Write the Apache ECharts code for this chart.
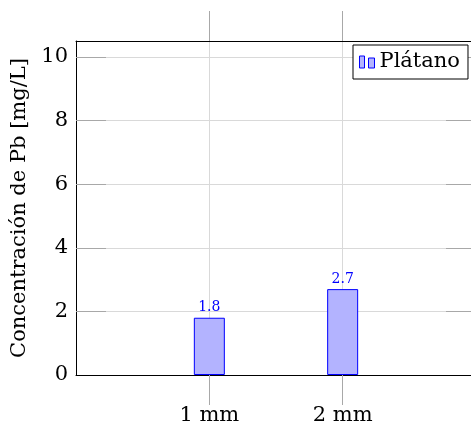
<!DOCTYPE html>
<html>
<head>
<meta charset="utf-8">
<script src="https://cdn.jsdelivr.net/npm/echarts@6/dist/echarts.min.js"></script>
<style>
  html, body { margin: 0; padding: 0; background: #fff; }
  #chart { width: 471px; height: 429px; }
</style>
</head>
<body>
<div id="chart"></div>
<script>
// Lead (Pb) concentration by sample thickness
const categories = ['1 mm', '2 mm'];
const categoryPositions = [1, 2];
const platanoValues = [1.8, 2.7];
const yTicks = [0, 2, 4, 6, 8, 10];

const seriesName = 'Plátano';
const yAxisTitle = 'Concentración de Pb [mg/L]';

const FONT = 'DejaVu Serif';
const GRID = '#d9d9d9';
const TICK = '#a8a8a8';

// inner tick marks skip the baseline so the black axis line stays intact
const innerTicks = yTicks.filter((v) => v > 0);

const chart = echarts.init(document.getElementById('chart'), null, { renderer: 'canvas' });

const barData = categoryPositions.map((x, i) => [x, platanoValues[i]]);

chart.setOption({
  animation: false,
  backgroundColor: '#fff',
  grid: { left: 76, width: 400, top: 41, bottom: 54, containLabel: false, outerBoundsMode: 'none' },
  legend: {
    left: 353,
    top: 45,
    orient: 'horizontal',
    data: [seriesName],
    icon: 'path://M0,0h5v12h-5z M9,2h6v10h-6z',
    itemWidth: 15,
    itemHeight: 12,
    itemGap: 5,
    padding: [6, 8, 6, 6],
    borderColor: '#000',
    borderWidth: 1,
    backgroundColor: '#fff',
    itemStyle: { color: '#b3b3ff', borderColor: '#0000ff', borderWidth: 1 },
    textStyle: { fontFamily: FONT, fontSize: 21, color: '#000', lineHeight: 22 }
  },
  xAxis: [
    {
      type: 'value',
      position: 'bottom',
      min: 0,
      max: 3,
      axisLine: { show: true, onZero: false, lineStyle: { color: '#000', width: 1 } },
      axisTick: { show: true, inside: false, length: 30, customValues: categoryPositions, lineStyle: { color: TICK } },
      axisLabel: {
        show: true,
        customValues: categoryPositions,
        margin: 30,
        formatter: (v) => categories[categoryPositions.indexOf(v)] || '',
        fontFamily: FONT, fontSize: 21, color: '#000'
      },
      splitLine: { show: true, lineStyle: { color: GRID, width: 1 } }
    },
    {
      type: 'value',
      position: 'top',
      min: 0,
      max: 3,
      axisLine: { show: true, onZero: false, lineStyle: { color: '#000', width: 1 } },
      axisTick: { show: true, inside: false, length: 30, customValues: categoryPositions, lineStyle: { color: TICK } },
      axisLabel: { show: false },
      splitLine: { show: false }
    }
  ],
  yAxis: [
    {
      type: 'value',
      position: 'left',
      min: 0,
      max: 10.5,
      name: yAxisTitle,
      nameLocation: 'middle',
      nameGap: 41,
      nameTextStyle: { fontFamily: FONT, fontSize: 21, color: '#000' },
      axisLine: { show: true, onZero: false, lineStyle: { color: '#000', width: 1 } },
      axisTick: { show: true, inside: true, length: 30, customValues: innerTicks, lineStyle: { color: TICK } },
      axisLabel: { show: true, customValues: yTicks, margin: 8, fontFamily: FONT, fontSize: 21, color: '#000' },
      splitLine: { show: true, lineStyle: { color: GRID, width: 1 } }
    },
    {
      type: 'value',
      position: 'right',
      min: 0,
      max: 10.5,
      axisLine: { show: false, onZero: false },
      axisTick: { show: true, inside: true, length: 30, customValues: innerTicks, lineStyle: { color: TICK } },
      axisLabel: { show: false },
      splitLine: { show: false }
    }
  ],
  series: [
    {
      name: seriesName,
      type: 'bar',
      xAxisIndex: 0,
      yAxisIndex: 0,
      data: barData,
      barWidth: 31,
      itemStyle: { color: '#b3b3ff', borderColor: '#0000ff', borderWidth: 1 },
      label: {
        show: true,
        position: 'top',
        distance: 3,
        formatter: (p) => String(p.value[1]),
        fontFamily: FONT,
        fontSize: 14,
        color: '#0000ff'
      }
    }
  ]
});
</script>
</body>
</html>
